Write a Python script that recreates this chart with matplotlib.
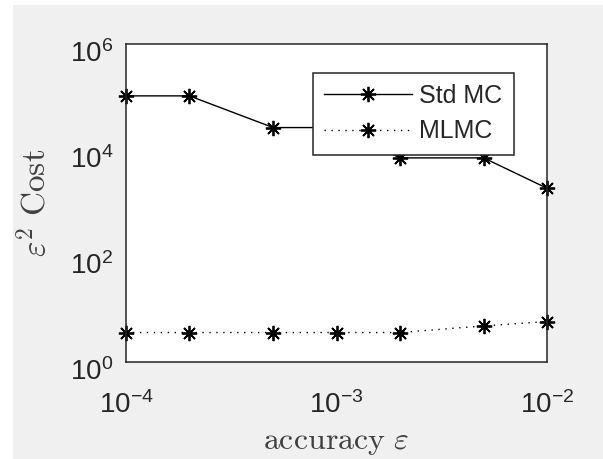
import matplotlib
matplotlib.use('Agg')
import matplotlib.pyplot as plt
import matplotlib.transforms as mtransforms
from matplotlib.patches import Rectangle

plt.rcParams['font.family'] = ['Liberation Sans', 'DejaVu Sans']
plt.rcParams['mathtext.fontset'] = 'cm'
plt.rcParams['axes.unicode_minus'] = False

# accuracy values and the two cost curves
accuracy = [1e-4, 2e-4, 5e-4, 1e-3, 2e-3, 5e-3, 1e-2]
std_mc = [1.05e5, 1.05e5, 2.65e4, 2.65e4, 7.1e3, 7.1e3, 1.9e3]
mlmc = [3.6, 3.6, 3.6, 3.6, 3.6, 4.8, 5.8]
series_names = ['Std MC', 'MLMC']
yticks = [1e0, 1e2, 1e4, 1e6]
xticks = [1e-4, 1e-3, 1e-2]

txt = '#262626'
gray_bg = '#f0f0f0'
asterisk = (8, 2, 0)

fig = plt.figure(figsize=(6.03, 4.59), dpi=100, facecolor='white')
# matlab-like gray figure area (white strip at top and left)
fig.patches.append(Rectangle((13 / 603, 0), 1, 1 - 5 / 459, transform=fig.transFigure,
                             facecolor=gray_bg, edgecolor='none', zorder=-10))

ax = fig.add_axes([126 / 603, 1 - 362 / 459, 421 / 603, 318 / 459])
ax.set_facecolor('white')

ax.plot(accuracy, std_mc, color='black', lw=1.0, marker=asterisk, ms=11, mew=1.3,
        clip_on=False, label=series_names[0])
ax.plot(accuracy, mlmc, color='black', lw=1.0, dashes=(1, 4), marker=asterisk, ms=11,
        mew=1.3, clip_on=False, label=series_names[1])

ax.set_xscale('log')
ax.set_yscale('log')
ax.set_xlim(1e-4, 1e-2)
ax.set_ylim(1e0, 1e6)
ax.set_xticks(xticks)
ax.set_yticks(yticks)
ax.minorticks_off()
ax.tick_params(length=0, labelsize=20, colors=txt)
ax.tick_params(axis='x', pad=21)
ax.tick_params(axis='y', pad=9)
# matlab puts the y labels a bit lower than the tick
shift = mtransforms.ScaledTranslation(0, -7 / 100, fig.dpi_scale_trans)
for lab in ax.get_yticklabels():
    lab.set_transform(lab.get_transform() + shift)
for s in ax.spines.values():
    s.set_color(txt)
    s.set_linewidth(1.1)

ax.set_xlabel(r'$\mathrm{accuracy}\ \varepsilon$', fontsize=23, color='#404040', labelpad=6)
ax.set_ylabel(r'$\varepsilon^2\ \mathrm{Cost}$', fontsize=24, color='#404040', labelpad=12)

leg = ax.legend(loc='upper left', bbox_to_anchor=(0.444, 0.909), borderaxespad=0,
                fontsize=18, handlelength=3.5, handletextpad=0.3, labelspacing=0.45,
                borderpad=0.45, fancybox=False, framealpha=1, edgecolor=txt)
leg.get_frame().set_linewidth(1.1)
for t in leg.get_texts():
    t.set_color(txt)

fig.savefig('out.png', dpi=100, facecolor=fig.get_facecolor())
